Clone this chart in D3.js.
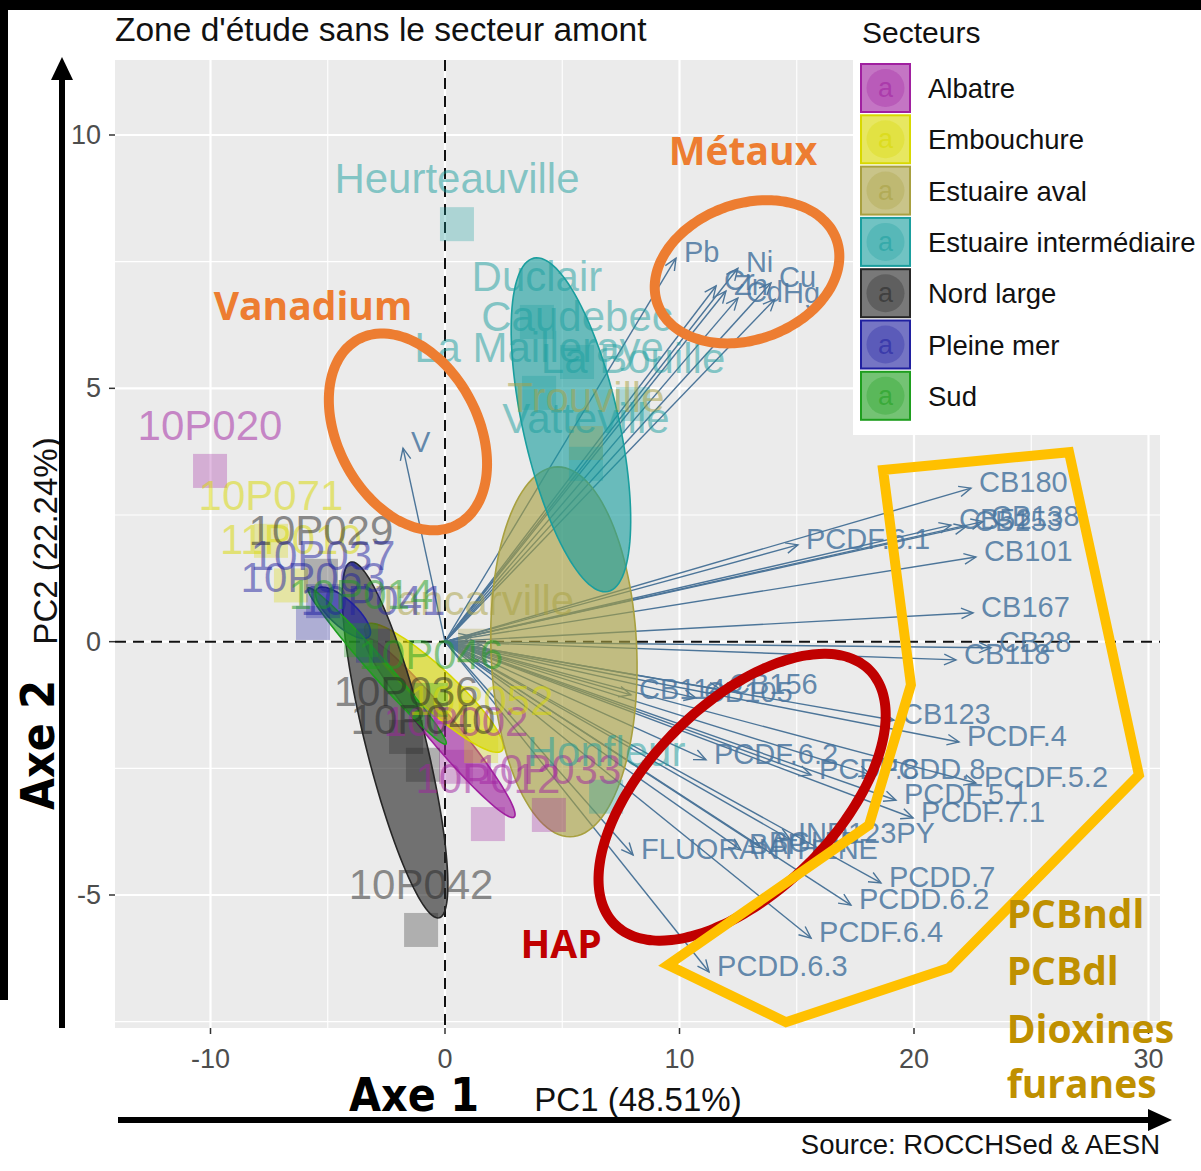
<!DOCTYPE html>
<html><head><meta charset="utf-8">
<script src="https://cdn.jsdelivr.net/npm/d3@7"></script>
<style>body{margin:0;background:#fff}svg{display:block}</style>
</head><body>
<svg id="c" width="1201" height="1171"></svg>
<script>
// ---------------- data ----------------
const sectors = ["Albatre","Embouchure","Estuaire aval","Estuaire intermédiaire","Nord large","Pleine mer","Sud"];
const sectorColors = ["#A020A0","#D8D800","#A8A040","#1A9E9E","#262626","#2020A0","#1E9E1E"];

const pointNames  = ["10P020","10P012","10P033","10P002","10P071","11P010","10P052","Trouville","Tancarville","Heurteauville","Duclair","Caudebec","La Mailleraye","La Bouille","Vatteville","Honfleur","10P042","10P029","10P036","10P040","10P063","10P037","10P041","10P014","10P046"];
const pointSector = [0,0,0,0,1,1,1,2,2,3,3,3,3,3,3,3,4,4,4,4,5,5,5,6,6];
const pointX = [-10.02,1.83,4.43,0.47,-7.42,-6.57,1.54,6.01,1.28,0.51,3.92,5.63,4.01,8.02,6.01,6.87,-1.02,-5.29,-1.66,-0.94,-5.63,-5.20,-3.07,-3.58,-0.60];
const pointY = [3.37,-3.60,-3.42,-2.47,1.99,1.11,-2.06,3.92,-0.08,8.24,6.31,5.52,4.91,4.69,3.51,-3.06,-5.69,1.30,-1.88,-2.43,0.37,0.80,-0.08,0.03,-1.15];

const varNames = ["V","Pb","Ni","Cr","Zn","Cd","Cu","Hg","CB180","CB138","CB153","CB52","CB101","PCDF.6.1","CB167","CB28","CB118","CB123","PCDF.4","CB114","CB105","CB156","PCDF.6.2","PCDF.8","PCDD.8","PCDF.5.2","PCDF.5.1","PCDF.7.1","IND123PY","FLUORANTHENE","BAP","BGHIP","PCDD.7","PCDD.6.2","PCDF.6.4","PCDD.6.3","","","",""];
const varX = [-1.79,9.85,12.49,11.56,11.98,12.49,13.90,14.07,22.43,22.94,22.22,21.58,22.64,15.05,22.52,23.28,21.79,19.15,21.92,7.93,10.70,11.77,11.13,15.61,18.17,22.64,19.23,19.96,14.71,8.02,12.62,13.48,18.59,17.31,15.61,11.26,1.54,1.96,1.11,1.75];
const varY = [3.82,7.57,7.37,7.02,6.92,6.78,7.08,6.76,3.03,2.37,2.27,2.30,1.67,1.91,0.57,-0.12,-0.36,-1.55,-1.98,-1.05,-1.11,-0.95,-2.33,-2.63,-2.63,-2.79,-3.13,-3.48,-3.90,-4.21,-4.11,-4.07,-4.76,-5.20,-5.85,-6.52,-0.07,-0.20,0.11,-0.40];

// concentration ellipses per sector (same order as sectors): centre and two semi-axis vectors (PC units)
const ellCX = [-0.21,-0.47,5.07,5.37,-2.13,-4.35,-2.90];
const ellCY = [-1.70,-0.91,-0.20,4.28,-1.94,0.57,-0.48];
const ellAX = [3.16,2.90,0.26,1.58,1.88,1.11,2.94];
const ellAY = [-1.76,-1.24,-3.65,-3.29,-3.51,-0.47,-1.54];
const ellBX = [0.49,0.58,3.11,2.00,1.24,0.38,0.29];
const ellBY = [0.19,0.29,0.00,0.20,0.14,0.19,0.12];

const xTicks = [-10,0,10,20,30];
const yTicks = [-5,0,5,10];
const xMinor = [-5,5,15,25];
const yMinor = [-7.5,-2.5,2.5,7.5];

// annotation shapes (PC units)
const annNames = ["Vanadium","Métaux","HAP"];
const annCX = [-1.58,12.88,12.67];
const annCY = [4.14,7.30,-3.07];
const annAX = [2.10,3.81,5.43];
const annAY = [-1.83,0.64,2.51];
const annBX = [-2.64,0.99,2.83];
const annBY = [-0.65,-1.26,-1.31];
const polyX = [18.68,26.61,29.59,21.49,14.54,9.51,18.08,19.87];
const polyY = [3.39,3.74,-2.63,-6.44,-7.51,-6.38,-3.62,-0.85];
const groupLabels = ["PCBndl","PCBdl","Dioxines","furanes"];

// ---------------- drawing ----------------
const svg = d3.select("#c");
const W = 1201, H = 1171;
const FONT = "'Liberation Sans', Arial, sans-serif";
const BOLD = "'Open Sans', 'Liberation Sans', sans-serif";

const x = d3.scaleLinear().domain([-10,30]).range([210.5,1148.5]);
const y = d3.scaleLinear().domain([-5,10]).range([895,135]);
const px0 = 115, px1 = 1160, py0 = 60, py1 = 1028;

svg.append("rect").attr("width",W).attr("height",H).attr("fill","#fff");

// panel
svg.append("rect").attr("x",px0).attr("y",py0).attr("width",px1-px0).attr("height",py1-py0).attr("fill","#EBEBEB");
const grid = svg.append("g");
xMinor.forEach(v=>grid.append("line").attr("x1",x(v)).attr("x2",x(v)).attr("y1",py0).attr("y2",py1).attr("stroke","#fff").attr("stroke-width",1.1));
yMinor.forEach(v=>grid.append("line").attr("y1",y(v)).attr("y2",y(v)).attr("x1",px0).attr("x2",px1).attr("stroke","#fff").attr("stroke-width",1.1));
xTicks.forEach(v=>grid.append("line").attr("x1",x(v)).attr("x2",x(v)).attr("y1",py0).attr("y2",py1).attr("stroke","#fff").attr("stroke-width",2.2));
yTicks.forEach(v=>grid.append("line").attr("y1",y(v)).attr("y2",y(v)).attr("x1",px0).attr("x2",px1).attr("stroke","#fff").attr("stroke-width",2.2));

// axes ticks + labels
xTicks.forEach(v=>{
  svg.append("line").attr("x1",x(v)).attr("x2",x(v)).attr("y1",py1).attr("y2",py1+6).attr("stroke","#333").attr("stroke-width",1.5);
  svg.append("text").attr("x",x(v)).attr("y",1068).attr("text-anchor","middle").attr("font-family",FONT).attr("font-size",27).attr("fill","#4D4D4D").text(v);
});
yTicks.forEach(v=>{
  svg.append("line").attr("x1",px0-6).attr("x2",px0).attr("y1",y(v)).attr("y2",y(v)).attr("stroke","#333").attr("stroke-width",1.5);
  svg.append("text").attr("x",px0-14).attr("y",y(v)+9).attr("text-anchor","end").attr("font-family",FONT).attr("font-size",27).attr("fill","#4D4D4D").text(v);
});

// clip to panel
svg.append("clipPath").attr("id","pc").append("rect").attr("x",px0).attr("y",py0).attr("width",px1-px0).attr("height",py1-py0);
const P = svg.append("g").attr("clip-path","url(#pc)");

// dashed zero lines
P.append("line").attr("x1",x(0)).attr("x2",x(0)).attr("y1",py0).attr("y2",py1).attr("stroke","#111").attr("stroke-width",2).attr("stroke-dasharray","11,7");
P.append("line").attr("y1",y(0)).attr("y2",y(0)).attr("x1",px0).attr("x2",px1).attr("stroke","#111").attr("stroke-width",2).attr("stroke-dasharray","11,7");

// variable arrows
const arrowCol = "#4C7599";
const av = P.append("g");
varNames.forEach((n,i)=>{
  const x0 = x(0), y0 = y(0), x1 = x(varX[i]), y1 = y(varY[i]);
  av.append("line").attr("x1",x0).attr("y1",y0).attr("x2",x1).attr("y2",y1).attr("stroke",arrowCol).attr("stroke-width",1.4);
  const ang = Math.atan2(y1-y0, x1-x0), L = 13, sp = 0.42;
  const p1 = [x1 - L*Math.cos(ang-sp), y1 - L*Math.sin(ang-sp)];
  const p2 = [x1 - L*Math.cos(ang+sp), y1 - L*Math.sin(ang+sp)];
  av.append("path").attr("d",`M${p1}L${x1},${y1}L${p2}`).attr("fill","none").attr("stroke",arrowCol).attr("stroke-width",1.4);
});

// concentration ellipses (drawn in sector order)
const line = d3.line().curve(d3.curveLinearClosed);
sectors.forEach((s,i)=>{
  const pts = d3.range(0,360,3).map(a=>{const t=a*Math.PI/180;
    return [x(ellCX[i]+ellAX[i]*Math.cos(t)+ellBX[i]*Math.sin(t)), y(ellCY[i]+ellAY[i]*Math.cos(t)+ellBY[i]*Math.sin(t))];});
  P.append("path").attr("d",line(pts)).attr("fill",sectorColors[i]).attr("fill-opacity",0.62).attr("stroke",sectorColors[i]).attr("stroke-width",1.6);
});

// variable labels
varNames.forEach((n,i)=>{
  if(!n) return;
  P.append("text").attr("x",x(varX[i])+8).attr("y",y(varY[i])+4).attr("font-family",FONT).attr("font-size",29)
    .attr("fill","#4A76A0").attr("fill-opacity",0.85).text(n);
});

// individuals
pointNames.forEach((n,i)=>{
  const c = sectorColors[pointSector[i]];
  P.append("rect").attr("x",x(pointX[i])-17).attr("y",y(pointY[i])-17).attr("width",34).attr("height",34).attr("fill",c).attr("fill-opacity",0.3);
});
pointNames.forEach((n,i)=>{
  const c = sectorColors[pointSector[i]];
  P.append("text").attr("x",x(pointX[i])).attr("y",y(pointY[i])-31).attr("text-anchor","middle").attr("font-family",FONT).attr("font-size",42)
    .attr("fill",c).attr("fill-opacity",0.5).text(n);
});

// title
svg.append("text").attr("x",115).attr("y",41).attr("font-family",FONT).attr("font-size",33.5).attr("fill","#111").text("Zone d'étude sans le secteur amont");

// axis titles
svg.append("text").attr("x",638).attr("y",1111).attr("text-anchor","middle").attr("font-family",FONT).attr("font-size",33).attr("fill","#111").text("PC1 (48.51%)");
svg.append("text").attr("transform","translate(57,541) rotate(-90)").attr("text-anchor","middle").attr("font-family",FONT).attr("font-size",33).attr("fill","#111").text("PC2 (22.24%)");
svg.append("text").attr("x",1160).attr("y",1154).attr("text-anchor","end").attr("font-family",FONT).attr("font-size",27.5).attr("fill","#111").text("Source: ROCCHSed & AESN");

// legend
const lg = svg.append("g");
lg.append("rect").attr("x",853).attr("y",10).attr("width",322).attr("height",425).attr("fill","#fff");
lg.append("text").attr("x",862).attr("y",43).attr("font-family",FONT).attr("font-size",30).attr("fill","#111").text("Secteurs");
sectors.forEach((s,i)=>{
  const ty = 64 + i*51.3, c = sectorColors[i];
  lg.append("rect").attr("x",861).attr("y",ty).attr("width",49).attr("height",48).attr("fill",c).attr("fill-opacity",0.62).attr("stroke",c).attr("stroke-width",2);
  lg.append("circle").attr("cx",885.5).attr("cy",ty+24).attr("r",19).attr("fill",c).attr("fill-opacity",0.3);
  lg.append("text").attr("x",885.5).attr("y",ty+33).attr("text-anchor","middle").attr("font-family",FONT).attr("font-size",27).attr("fill",c).attr("fill-opacity",0.55).text("a");
  lg.append("text").attr("x",928).attr("y",ty+34).attr("font-family",FONT).attr("font-size",27.5).attr("fill","#111").text(s);
});

// ---------------- annotations ----------------
const annCols = ["#ED7D31","#ED7D31","#C00000"];
annNames.forEach((n,i)=>{
  const pts = d3.range(0,360,3).map(a=>{const t=a*Math.PI/180;
    return [x(annCX[i]+annAX[i]*Math.cos(t)+annBX[i]*Math.sin(t)), y(annCY[i]+annAY[i]*Math.cos(t)+annBY[i]*Math.sin(t))];});
  svg.append("path").attr("d",d3.line().curve(d3.curveCardinalClosed)(pts)).attr("fill","none").attr("stroke",annCols[i]).attr("stroke-width",10);
});
svg.append("path").attr("d",line(polyX.map((v,i)=>[x(v),y(polyY[i])]))).attr("fill","none").attr("stroke","#FFC000").attr("stroke-width",10).attr("stroke-linejoin","miter");

svg.append("text").attr("x",x(12.71)).attr("y",y(9.40)).attr("text-anchor","middle").attr("font-family",BOLD).attr("font-weight",700).attr("font-size",39).attr("fill","#ED7D31").text("Métaux");
svg.append("text").attr("x",x(-5.63)).attr("y",y(6.35)).attr("text-anchor","middle").attr("font-family",BOLD).attr("font-weight",700).attr("font-size",39).attr("fill","#ED7D31").text("Vanadium");
svg.append("text").attr("x",x(4.95)).attr("y",y(-6.25)).attr("text-anchor","middle").attr("font-family",BOLD).attr("font-weight",700).attr("font-size",39).attr("fill","#C00000").text("HAP");
const glY = [-5.65,-6.78,-7.93,-9.01];
groupLabels.forEach((g,i)=>{
  svg.append("text").attr("x",x(23.95)).attr("y",y(glY[i])).attr("font-family",BOLD).attr("font-weight",700).attr("font-size",39).attr("fill","#BF9000").text(g);
});

// big axis arrows
svg.append("line").attr("x1",118).attr("x2",1150).attr("y1",1120).attr("y2",1120).attr("stroke","#000").attr("stroke-width",6);
svg.append("path").attr("d","M1172,1120L1148,1109L1148,1131Z").attr("fill","#000");
svg.append("line").attr("x1",62).attr("x2",62).attr("y1",1028).attr("y2",78).attr("stroke","#000").attr("stroke-width",6);
svg.append("path").attr("d","M62,57L51,80L73,80Z").attr("fill","#000");
const COND = "'Liberation Sans Narrow','DejaVu Sans Condensed','Open Sans',sans-serif";
svg.append("text").attr("x",414).attr("y",1111).attr("text-anchor","middle").attr("font-family",COND).attr("font-weight",700).attr("font-size",46).attr("fill","#000").text("Axe 1");
svg.append("text").attr("transform","translate(54,745) rotate(-90)").attr("text-anchor","middle").attr("font-family",COND).attr("font-weight",700).attr("font-size",46).attr("fill","#000").text("Axe 2");

// black frame pieces of the screenshot
svg.append("rect").attr("x",0).attr("y",0).attr("width",W).attr("height",10).attr("fill","#000");
svg.append("rect").attr("x",0).attr("y",0).attr("width",8).attr("height",1000).attr("fill","#000");
</script>
</body></html>
